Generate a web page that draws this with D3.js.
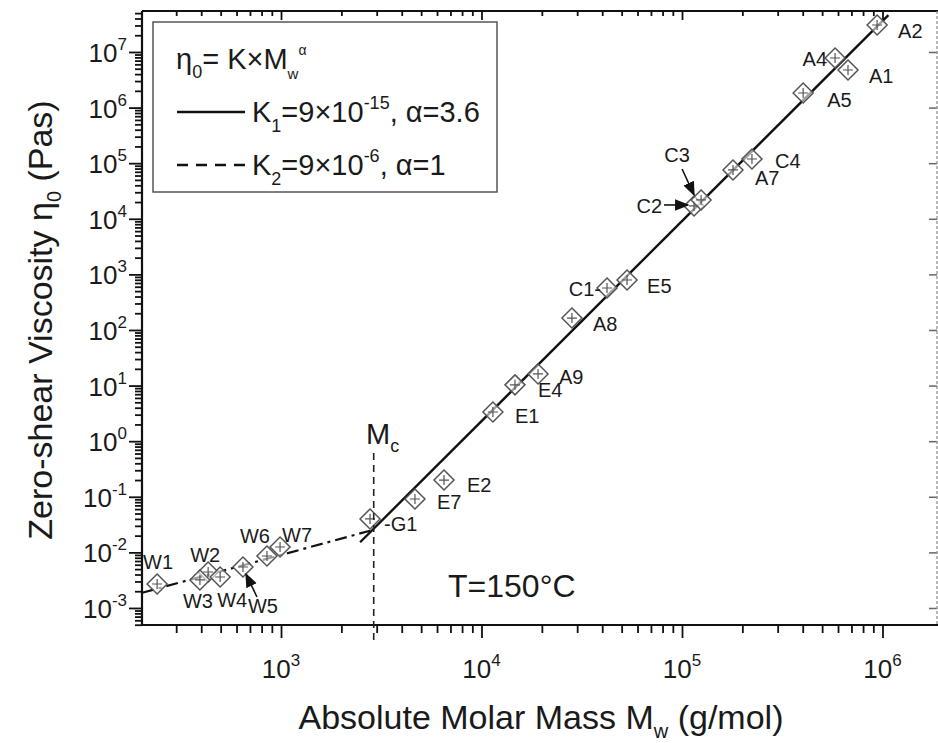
<!DOCTYPE html>
<html><head><meta charset="utf-8">
<script src="https://cdn.jsdelivr.net/npm/d3@7"></script>
<style>
body{margin:0;background:#fff;}
text{font-family:"Liberation Sans",Arial,sans-serif;fill:#1a1a1a;}
</style></head><body>
<svg id="chart" width="938" height="743"></svg>
<script>
// ---- data ----
const samples   = ["W1","W2","W3","W4","W5","W6","W7","G1","E7","E2","E1","E4","A9","A8","C1","E5","C2","C3","A7","C4","A5","A4","A1","A2"];
const molarMass = [241,433,394,497,646,851,989,2780,4656,6500,11400,14690,19140,28250,42270,53200,114800,124500,179600,223300,402000,580000,673000,940000];
const viscosity = [0.0027,0.00444,0.00319,0.00361,0.00546,0.0086,0.0125,0.0399,0.0912,0.200,3.35,10.3,16.2,164,569,792,17000,21800,75500,119000,1.83e6,7.8e6,4.74e6,3.06e7];
// fitted power-law lines (end points)
const fitHighM   = [2480, 1.07e6];
const fitHighEta = [0.0152, 4.6e7];
const fitLowM    = [203, 2780];
const fitLowEta  = [0.00188, 0.0245];
const criticalMass = 2900;
const xTickExp = [3,4,5,6];
const yTickExp = [-3,-2,-1,0,1,2,3,4,5,6,7];
const xDomain = [202.6, 1.87e6];
const yDomain = [4.94e-4, 5.46e7];

// ---- layout ----
const svg = d3.select("#chart");
const L = 142, R = 937, T = 11, B = 625;
const x = d3.scaleLog().domain(xDomain).range([L, R]);
const y = d3.scaleLog().domain(yDomain).range([B, T]);

const xAll = x.ticks(), yAll = y.ticks(30);
const isMajor = v => Math.abs(Math.log10(v) - Math.round(Math.log10(v))) < 1e-9;
const xMin = xAll.filter(v => !isMajor(v)), xMaj = xAll.filter(isMajor);
const yMin = yAll.filter(v => !isMajor(v)), yMaj = yAll.filter(isMajor);

function axis(gen, vals, size, tr) {
  const g = svg.append("g").attr("transform", tr)
    .call(gen.tickValues(vals).tickSize(size).tickFormat(""));
  g.select(".domain").remove();
  g.selectAll("line").attr("stroke", "#111").attr("stroke-width", 1.8);
  return g;
}
axis(d3.axisLeft(y), yMin, 7, `translate(${L},0)`);
axis(d3.axisLeft(y), yMaj, 13, `translate(${L},0)`);
axis(d3.axisBottom(x), xMin, 8, `translate(0,${B})`);
axis(d3.axisBottom(x), xMaj, 13, `translate(0,${B})`);
axis(d3.axisTop(x), xMin, -5, `translate(0,${T})`);
axis(d3.axisTop(x), xMaj, -9, `translate(0,${T})`);
const rg = axis(d3.axisRight(y), yMaj, -8, `translate(${R},0)`);
rg.selectAll("line").attr("stroke", "#666").attr("stroke-width", 1.5);

// frame
svg.append("line").attr("x1", L).attr("x2", L).attr("y1", T).attr("y2", B).attr("stroke", "#111").attr("stroke-width", 2.2);
svg.append("line").attr("x1", L).attr("x2", R+1).attr("y1", B).attr("y2", B).attr("stroke", "#111").attr("stroke-width", 2.2);
svg.append("line").attr("x1", L).attr("x2", 938).attr("y1", T).attr("y2", T).attr("stroke", "#111").attr("stroke-width", 2.2);
svg.append("line").attr("x1", R).attr("x2", R).attr("y1", T).attr("y2", B).attr("stroke", "#888").attr("stroke-width", 1.2).attr("stroke-dasharray", "3,2");

// tick labels
xTickExp.forEach(e => {
  const t = svg.append("text").attr("x", x(Math.pow(10, e))).attr("y", 678)
    .attr("text-anchor", "middle").attr("font-size", 26);
  t.append("tspan").text("10");
  t.append("tspan").attr("dy", -12).attr("font-size", 17).text(String(e));
});
yTickExp.forEach(e => {
  const t = svg.append("text").attr("x", 127).attr("y", y(Math.pow(10, e)) + 10)
    .attr("text-anchor", "end").attr("font-size", 26);
  t.append("tspan").text("10");
  t.append("tspan").attr("dy", -12).attr("font-size", 17).text(String(e));
});

// axis titles
const xt = svg.append("text").attr("x", 541).attr("y", 729).attr("text-anchor", "middle").attr("font-size", 34);
xt.append("tspan").text("Absolute Molar Mass M");
xt.append("tspan").attr("dy", 9).attr("font-size", 20).text("w");
xt.append("tspan").attr("dy", -9).text(" (g/mol)");
const yt = svg.append("text").attr("transform", "translate(52,320) rotate(-90)").attr("text-anchor", "middle").attr("font-size", 34);
yt.append("tspan").text("Zero-shear Viscosity η");
yt.append("tspan").attr("dy", 9).attr("font-size", 20).text("0");
yt.append("tspan").attr("dy", -9).text(" (Pas)");

// clip
svg.append("clipPath").attr("id", "clip").append("rect").attr("x", L).attr("y", T).attr("width", R - L).attr("height", B - T);
const plot = svg.append("g").attr("clip-path", "url(#clip)");

// Mc line
svg.append("line").attr("x1", x(criticalMass)).attr("x2", x(criticalMass))
  .attr("y1", 453).attr("y2", B + 20).attr("stroke", "#222").attr("stroke-width", 1.6).attr("stroke-dasharray", "7,5");
const mc = svg.append("text").attr("x", 366).attr("y", 444).attr("font-size", 29);
mc.append("tspan").text("M");
mc.append("tspan").attr("dy", 8).attr("font-size", 18).text("c");

// fit lines
const line = d3.line().x(d => x(d[0])).y(d => y(d[1]));
plot.append("path").attr("d", line(d3.zip(fitLowM, fitLowEta))).attr("fill", "none")
  .attr("stroke", "#111").attr("stroke-width", 2.2).attr("stroke-dasharray", "12,5,3,5");
plot.append("path").attr("d", line(d3.zip(fitHighM, fitHighEta))).attr("fill", "none")
  .attr("stroke", "#111").attr("stroke-width", 2.4);

// markers
const pts = samples.map((s, i) => ({ s, m: molarMass[i], v: viscosity[i] }));
const mk = plot.selectAll("g.pt").data(pts).join("g").attr("class", "pt")
  .attr("transform", d => `translate(${x(d.m)},${y(d.v)})`);
const r = 10;
mk.append("path").attr("d", `M0,${-r}L${r},0L0,${r}L${-r},0Z`)
  .attr("fill", "rgba(255,255,255,0.6)").attr("stroke", "#555").attr("stroke-width", 1.5);
mk.append("path").attr("d", "M-5,0H5M0,-5V5").attr("stroke", "#555").attr("stroke-width", 1.2);

// labels: [dx, dy, anchor, text]
const labelPos = {
  W1:[1,-15,"middle","W1"], W2:[-3,-10,"middle","W2"], W3:[-2,28,"middle","W3"], W4:[12,30,"middle","W4"],
  W5:[20,46,"middle","W5"], W6:[-12,-13,"middle","W6"], W7:[17,-5,"middle","W7"], G1:[14,12,"start","-G1"],
  E7:[22,10,"start","E7"], E2:[23,12,"start","E2"], E1:[22,11,"start","E1"], E4:[23,12,"start","E4"],
  A9:[21,10,"start","A9"], A8:[21,13,"start","A8"], C1:[-6,8,"end","C1-"], E5:[20,13,"start","E5"],
  C2:[-32,7,"end","C2"], C3:[-24,-38,"middle","C3"], A7:[22,15,"start","A7"], C4:[23,9,"start","C4"],
  A5:[24,14,"start","A5"], A4:[-8,8,"end","A4"], A1:[21,13,"start","A1"], A2:[21,13,"start","A2"]
};
pts.forEach(d => {
  const p = labelPos[d.s];
  svg.append("text").attr("x", x(d.m) + p[0]).attr("y", y(d.v) + p[1])
    .attr("text-anchor", p[2]).attr("font-size", 20).text(p[3]);
});

// arrows
svg.append("defs").append("marker").attr("id", "ah").attr("viewBox", "0 0 10 10")
  .attr("refX", 9).attr("refY", 5).attr("markerWidth", 9).attr("markerHeight", 9).attr("orient", "auto")
  .append("path").attr("d", "M0,1L10,5L0,9Z").attr("fill", "#111");
function arrow(name, dx1, dy1, dx2, dy2) {
  const i = samples.indexOf(name), cx = x(molarMass[i]), cy = y(viscosity[i]);
  svg.append("line").attr("x1", cx + dx1).attr("y1", cy + dy1).attr("x2", cx + dx2).attr("y2", cy + dy2)
    .attr("stroke", "#111").attr("stroke-width", 1.6).attr("marker-end", "url(#ah)");
}
arrow("W5", 14, 30, 3, 7);
arrow("C2", -30, -1, -6, -1);
arrow("C3", -19, -31, -7, -5);

// T label
svg.append("text").attr("x", 448).attr("y", 597).attr("font-size", 32).text("T=150°C");

// legend
const lg = svg.append("g");
lg.append("rect").attr("x", 153).attr("y", 22).attr("width", 344).attr("height", 170)
  .attr("fill", "#fff").attr("stroke", "#555").attr("stroke-width", 1.5);
const l1 = lg.append("text").attr("x", 176).attr("y", 69).attr("font-size", 29);
l1.append("tspan").text("η");
l1.append("tspan").attr("dy", 9).attr("font-size", 18).text("0");
l1.append("tspan").attr("dy", -9).text("= K×M");
l1.append("tspan").attr("dy", 10).attr("font-size", 15).text("w");
l1.append("tspan").attr("dy", -24).attr("font-size", 14).text("α");
lg.append("line").attr("x1", 177).attr("x2", 245).attr("y1", 112).attr("y2", 112).attr("stroke", "#111").attr("stroke-width", 2.4);
const l2 = lg.append("text").attr("x", 252).attr("y", 122).attr("font-size", 29);
l2.append("tspan").text("K");
l2.append("tspan").attr("dy", 10).attr("font-size", 18).text("1");
l2.append("tspan").attr("dy", -10).text("=9×10");
l2.append("tspan").attr("dy", -13).attr("font-size", 18).text("-15");
l2.append("tspan").attr("dy", 13).text(", α=3.6");
lg.append("line").attr("x1", 177).attr("x2", 245).attr("y1", 165).attr("y2", 165).attr("stroke", "#111").attr("stroke-width", 2.4).attr("stroke-dasharray", "11,8");
const l3 = lg.append("text").attr("x", 252).attr("y", 175).attr("font-size", 29);
l3.append("tspan").text("K");
l3.append("tspan").attr("dy", 10).attr("font-size", 18).text("2");
l3.append("tspan").attr("dy", -10).text("=9×10");
l3.append("tspan").attr("dy", -13).attr("font-size", 18).text("-6");
l3.append("tspan").attr("dy", 13).text(", α=1");
</script></body></html>
